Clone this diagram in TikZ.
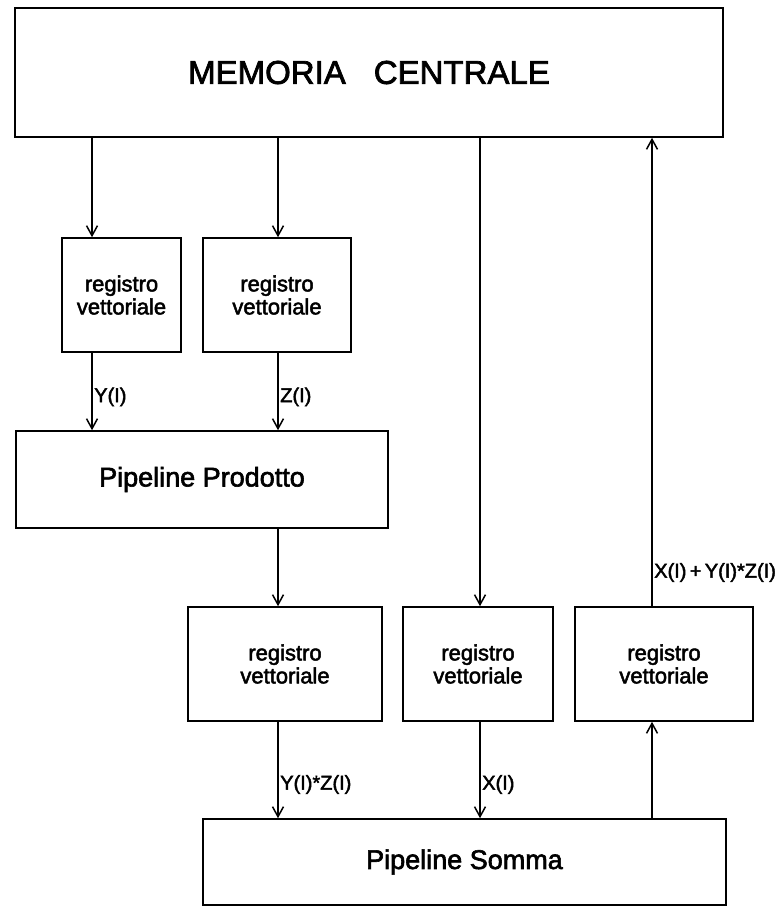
\documentclass[tikz,border=0pt]{standalone}
\usepackage{fontspec}
\setmainfont{Liberation Sans}
\newfontfamily\heavy{Liberation Sans}[FakeBold=2.2]
\usetikzlibrary{arrows.meta}
\begin{document}
\begin{tikzpicture}[x=1pt,y=-1pt,
  box/.style={draw, line width=1.6pt, inner sep=0pt, align=center},
  regbox/.style={box, minimum height=114pt, font=\heavy\fontsize{22}{23}\selectfont},
  pipe/.style={box, font=\heavy\fontsize{27}{30}\selectfont},
  arr/.style={line width=1.5pt, -{Straight Barb[length=10pt,width=11pt,line width=1.5pt]}},
  lab/.style={anchor=west, inner sep=1.5pt, font=\heavy\fontsize{20}{22}\selectfont}]
\useasboundingbox (0,0) rectangle (782,913);
% boxes
\node[box, minimum width=708pt, minimum height=129pt, font=\heavy\fontsize{33}{36}\selectfont] (mem) at (369,72.5) {MEMORIA\hspace{28pt}CENTRALE};
\node[regbox, minimum width=119pt] (reg1) at (121.5,295) {registro\\vettoriale};
\node[regbox, minimum width=148pt] (reg2) at (277,295) {registro\\vettoriale};
\node[pipe, minimum width=372pt, minimum height=97pt] (prod) at (202,479.5) {Pipeline Prodotto};
\node[regbox, minimum width=194pt] (reg3) at (285,664) {registro\\vettoriale};
\node[regbox, minimum width=150pt] (reg4) at (478,664) {registro\\vettoriale};
\node[regbox, minimum width=178pt] (reg5) at (664,664) {registro\\vettoriale};
\node[pipe, minimum width=523pt, minimum height=86pt] (somma) at (464.5,862) {Pipeline Somma};
% connector columns
\coordinate (xa) at (92,0);
\coordinate (xb) at (278,0);
\coordinate (xc) at (480,0);
\coordinate (xd) at (652,0);
% connectors
\draw[arr] (xa |- mem.south) -- (xa |- reg1.north);
\draw[arr] (xb |- mem.south) -- (xb |- reg2.north);
\draw[arr] (xc |- mem.south) -- (xc |- reg4.north);
\draw[arr] (xa |- reg1.south) -- node[lab, pos=0.57] {Y(I)} (xa |- prod.north);
\draw[arr] (xb |- reg2.south) -- node[lab, pos=0.57] {Z(I)} (xb |- prod.north);
\draw[arr] (xb |- prod.south) -- (xb |- reg3.north);
\draw[arr] (xb |- reg3.south) -- node[lab, pos=0.65] {Y(I)*Z(I)} (xb |- somma.north);
\draw[arr] (xc |- reg4.south) -- node[lab, pos=0.65] {X(I)} (xc |- somma.north);
\draw[arr] (xd |- somma.north) -- (xd |- reg5.south);
\draw[arr] (xd |- reg5.north) -- node[lab, pos=0.072] {X(I)\,+\,Y(I)*Z(I)} (xd |- mem.south);
\end{tikzpicture}
\end{document}
